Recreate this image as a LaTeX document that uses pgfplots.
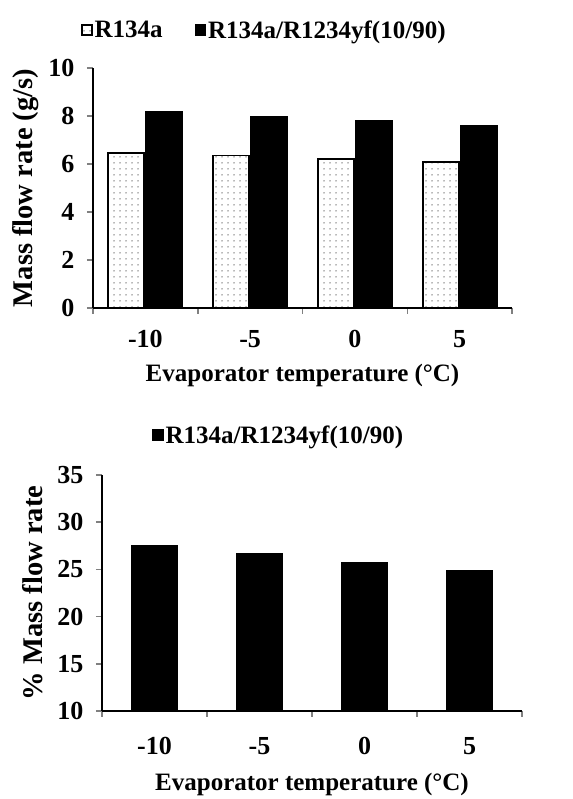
\documentclass[border=0pt]{standalone}
\usepackage{pgfplots}
\pgfplotsset{compat=1.18}
\usetikzlibrary{patterns.meta}
\usepackage{fontspec}
\setmainfont{Liberation Serif}

\pgfplotsset{
  mybars/.style={
    scale only axis,
    axis x line*=bottom,
    axis y line*=left,
    x axis line style={-, line width=1.5pt},
    y axis line style={-, line width=1.5pt},
    xmin=-0.5, xmax=3.5,
    xtick={0,1,2,3},
    xticklabels={-10,-5,0,5},
    major x tick style={draw=none},
    minor xtick={-0.5,0.5,1.5,2.5,3.5},
    minor x tick style={line width=1.5pt},
    ytick style={line width=1.5pt},
    tick align=outside,
    major tick length=6pt,
    minor tick length=6pt,
    /pgf/number format/assume math mode=true,
    tick label style={font=\fontsize{26}{26}\selectfont\bfseries},
    xticklabel style={anchor=base},
    yticklabel style={xshift=-9pt},
    legend style={draw=none, fill=none, inner sep=0pt,
      font=\fontsize{25}{25}\selectfont\bfseries, legend columns=-1,
      /tikz/every even column/.append style={column sep=30pt}},
    legend cell align=left,
  },
  sq/.style={legend image code/.code={\draw[##1, line width=1.5pt] (0pt,-5pt) rectangle (10pt,5pt);}},
}

\begin{document}
\begin{tikzpicture}
\path[use as bounding box] (0,0) rectangle (572pt,799pt);

% upper chart: mass flow rate
\begin{axis}[mybars,
    at={(93pt,491pt)}, anchor=south west,
    width=419pt, height=240pt,
    ymin=0, ymax=10, ytick={0,2,...,10},
    ybar=2pt, bar width=36pt,
    xticklabel style={yshift=-34pt},
    ylabel={Mass flow rate (g/s)},
    every axis y label/.style={at={(axis description cs:-0.16,0.5)}, rotate=90, anchor=center,
      font=\fontsize{28.5}{28.5}\selectfont\bfseries},
    xlabel={Evaporator temperature (\textdegree C)},
    every axis x label/.style={at={(axis description cs:0.5,0)}, anchor=center, yshift=-67pt,
      font=\fontsize{25}{25}\selectfont\bfseries},
    legend style={at={(axis description cs:-0.029,1)}, anchor=west, yshift=38pt},
  ]
  \addplot[sq, draw=black, line width=1.8pt, fill=white,
    postaction={pattern={Dots[distance=6pt, radius=0.75pt]}, pattern color=black!55}]
    coordinates {(0,6.47) (1,6.35) (2,6.22) (3,6.09)};
  \addplot[sq, draw=black, line width=1.8pt, fill=black]
    coordinates {(0,8.19) (1,7.98) (2,7.78) (3,7.57)};
  \legend{R134a, R134a/R1234yf(10/90)}
\end{axis}

% lower chart: percentage increase
\begin{axis}[mybars,
    at={(102pt,88pt)}, anchor=south west,
    width=420pt, height=236pt,
    ymin=10, ymax=35, ytick={10,15,...,35},
    ybar=0pt, bar width=45pt,
    xticklabel style={yshift=-38pt},
    ylabel={\% Mass flow rate},
    every axis y label/.style={at={(axis description cs:-0.166,0.5)}, rotate=90, anchor=center,
      font=\fontsize{28.5}{28.5}\selectfont\bfseries},
    xlabel={Evaporator temperature (\textdegree C)},
    every axis x label/.style={at={(axis description cs:0.5,0)}, anchor=center, yshift=-73pt,
      font=\fontsize{25}{25}\selectfont\bfseries},
    legend style={at={(axis description cs:0.119,1)}, anchor=west, yshift=40pt},
  ]
  \addplot[sq, draw=black, line width=1.2pt, fill=black]
    coordinates {(0,27.5) (1,26.7) (2,25.75) (3,24.9)};
  \legend{R134a/R1234yf(10/90)}
\end{axis}
\end{tikzpicture}
\end{document}
